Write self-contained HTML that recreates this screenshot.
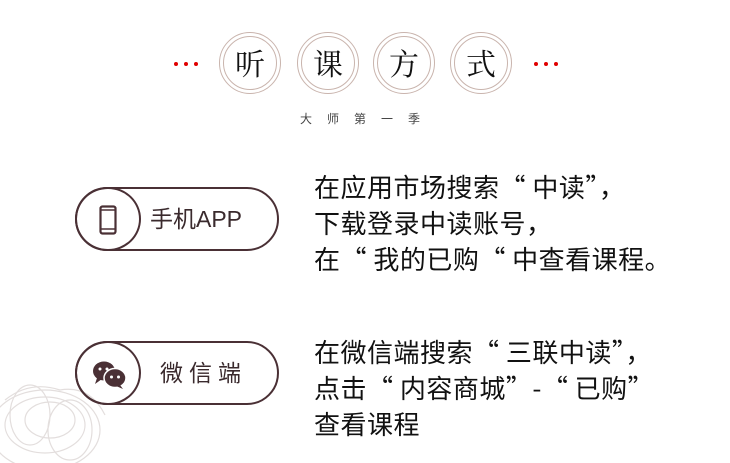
<!DOCTYPE html>
<html><head><meta charset="utf-8"><style>
html,body{margin:0;padding:0;background:#fff;}
body{width:730px;height:463px;position:relative;overflow:hidden;font-family:"Liberation Sans","Noto Sans CJK SC",sans-serif;}
.c{position:absolute;width:62px;height:62px;border-radius:50%;border:1.5px solid #c9b4ad;box-sizing:border-box;}
.c::after{content:"";position:absolute;left:3px;top:3px;right:3px;bottom:3px;border-radius:50%;border:1px solid #c9b4ad;}
.c span{position:absolute;left:0;right:0;top:0;line-height:58px;text-align:center;font-family:"Noto Serif CJK SC",serif;font-size:30px;color:#111;}
.pill{position:absolute;left:75px;width:204px;height:64px;border:2px solid #4a3035;border-radius:32px;box-sizing:border-box;}
.pill .in{position:absolute;left:-2px;top:-2px;width:66px;height:64px;border:2px solid #4a3035;border-radius:50%;box-sizing:border-box;}
.pill .lbl{position:absolute;left:73px;top:0;line-height:60px;font-size:23px;color:#3a2a2d;}
.txt{position:absolute;left:314px;font-family:"Noto Sans CJK SC",sans-serif;font-size:26px;letter-spacing:0.5px;line-height:36px;color:#111;white-space:nowrap;}
</style></head><body>
<svg style="position:absolute;left:0;top:360px" width="130" height="103">
<g fill="none" stroke="#e3dedd" stroke-width="1.2">
<ellipse cx="45" cy="70" rx="55" ry="40"/><ellipse cx="45" cy="65" rx="40" ry="28"/><ellipse cx="50" cy="60" rx="25" ry="18"/><ellipse cx="30" cy="55" rx="20" ry="30"/><ellipse cx="70" cy="70" rx="22" ry="30"/><path d="M5 40 Q30 20 60 30 Q90 25 105 55"/>
</g></svg>
<svg style="position:absolute;left:170px;top:58px" width="400" height="12" fill="#e00000">
<circle cx="6" cy="6" r="2"/><circle cx="16" cy="6" r="2"/><circle cx="26" cy="6" r="2"/>
<circle cx="366" cy="6" r="2"/><circle cx="376" cy="6" r="2"/><circle cx="386" cy="6" r="2"/>
</svg>
<div class="c" style="left:219px;top:32px"><span>听</span></div>
<div class="c" style="left:297px;top:32px"><span>课</span></div>
<div class="c" style="left:373px;top:32px"><span>方</span></div>
<div class="c" style="left:450px;top:32px"><span>式</span></div>
<div style="position:absolute;left:300px;top:110px;font-family:'Noto Sans CJK SC',sans-serif;font-size:12px;color:#444;letter-spacing:15px;">大师第一季</div>

<div class="pill" style="top:187px"><div class="in">
<svg style="position:absolute;left:22px;top:16px" width="18" height="30"><rect x="1.5" y="1.5" width="15" height="27" rx="2" fill="none" stroke="#4a3035" stroke-width="2.2"/><line x1="2" y1="5" x2="16" y2="5" stroke="#4a3035" stroke-width="1.5"/><line x1="2" y1="24" x2="16" y2="24" stroke="#4a3035" stroke-width="1.5"/></svg>
</div><div class="lbl">手机APP</div></div>

<div class="pill" style="top:341px"><div class="in">
<svg style="position:absolute;left:15px;top:17px" width="36" height="30"><ellipse cx="12" cy="11" rx="11" ry="9.5" fill="#4a3035"/><path d="M5 18 L3 24 L10 19Z" fill="#4a3035"/><ellipse cx="23" cy="18" rx="11" ry="9.5" fill="#4a3035" stroke="#fff" stroke-width="1.5"/><path d="M28 25 L31 29 L24 26Z" fill="#4a3035"/><circle cx="8" cy="9" r="1.5" fill="#fff"/><circle cx="15" cy="9" r="1.5" fill="#fff"/><circle cx="19.5" cy="17" r="1.5" fill="#fff"/><circle cx="26.5" cy="17" r="1.5" fill="#fff"/></svg>
</div><div class="lbl" style="left:83px;letter-spacing:6px">微信端</div></div>

<div class="txt" style="top:169px">在应用市场搜索“ 中读”，<br>下载登录中读账号，<br>在“ 我的已购“ 中查看课程。</div>
<div class="txt" style="top:334px">在微信端搜索“ 三联中读”，<br>点击“ 内容商城”-“ 已购”<br>查看课程</div>
</body></html>
